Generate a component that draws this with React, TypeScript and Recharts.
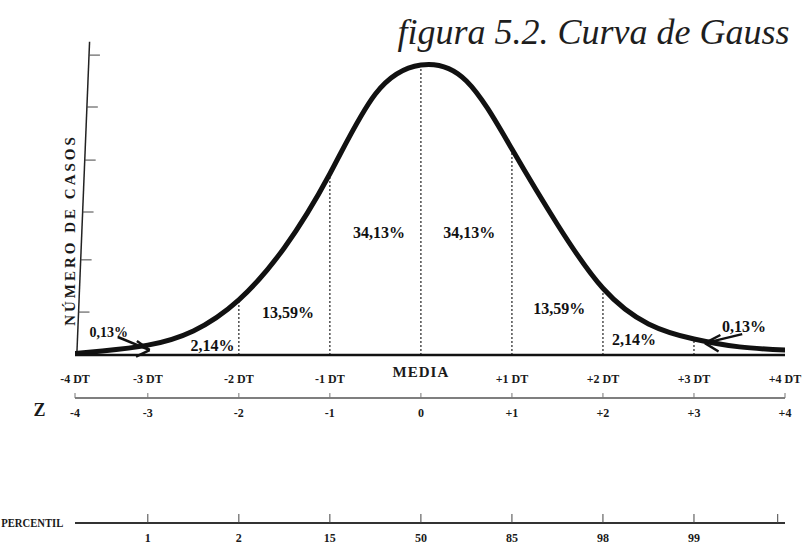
import React from "react";
import {
  ComposedChart,
  Line,
  XAxis,
  YAxis,
  ReferenceLine,
  ReferenceDot,
} from "recharts";

// curve (z in standard deviations, height relative to peak = 100)
const zValues = [-3.8, -3.5, -3, -2.5, -2, -1.5, -1, -0.5, 0, 0.5, 1, 1.5, 2, 2.5, 3, 3.5, 4];
const caseCounts = [0.5, 1.4, 3.4, 8.3, 19, 37, 62.5, 90, 100, 94.5, 71, 45, 23, 10.7, 5.5, 2.8, 1.7];

const dtTicks = [-3.8, -3, -2, -1, 0, 1, 2, 3, 4];
const dtLabels = ["-4 DT", "-3 DT", "-2 DT", "-1 DT", "MEDIA", "+1 DT", "+2 DT", "+3 DT", "+4 DT"];
const zTicks = [-3.8, -3, -2, -1, 0, 1, 2, 3, 4];
const zLabels = ["-4", "-3", "-2", "-1", "0", "+1", "+2", "+3", "+4"];
const pctTicks = [-3, -2, -1, 0, 1, 2, 3, 3.92];
const pctLabels = ["1", "2", "15", "50", "85", "98", "99", ""];
const cutoffs = [-2, -1, 0, 1, 2, 3];
const areaLabels = ["0,13%", "2,14%", "13,59%", "34,13%", "34,13%", "13,59%", "2,14%", "0,13%"];
const yTicks = [14.8, 32.8, 49.3, 67.2, 85.5, 103.4];

// layout of the annotations, in axis units
const areaLabelPos = [
  [-3.43, 7.6],
  [-2.29, 3.4],
  [-1.46, 14.8],
  [-0.46, 42.4],
  [0.53, 42.4],
  [1.52, 16.2],
  [2.34, 5.2],
  [3.55, 9.7],
];
const arrows = [
  // shaft, then the two head strokes, all ending at the tip
  { tip: [-2.98, 1.7], tail: [-3.33, 6.2], h1: [-3.12, 4.8], h2: [-3.13, -0.6] },
  { tip: [3.12, 4.1], tail: [3.53, 7.2], h1: [3.29, 6.9], h2: [3.27, 1.2] },
];

const data = zValues.map((z, i) => ({ z, cases: caseCounts[i] }));
const heightAt = (z: number) => caseCounts[zValues.indexOf(z)];

const SERIF = "'Liberation Serif', 'Times New Roman', serif";

const DtTick = (props: any) => {
  const { x, y, payload } = props;
  const label = dtLabels[dtTicks.indexOf(payload.value)] ?? "";
  const media = label === "MEDIA";
  return (
    <text
      x={x}
      y={y + (media ? 17 : 24)}
      textAnchor="middle"
      dominantBaseline="central"
      fontFamily={SERIF}
      fontWeight="bold"
      fontSize={media ? 15 : 12}
      letterSpacing={media ? 1 : 0}
      fill="#1a1a1a"
    >
      {label}
    </text>
  );
};

const ZTick = (props: any) => {
  const { x, y, payload } = props;
  const label = zLabels[zTicks.indexOf(payload.value)] ?? "";
  return (
    <text x={x} y={y + 20} textAnchor="middle" dominantBaseline="central"
      fontFamily={SERIF} fontWeight="bold" fontSize={12} fill="#1a1a1a">
      {label}
    </text>
  );
};

const PctTick = (props: any) => {
  const { x, y, payload } = props;
  const label = pctLabels[pctTicks.indexOf(payload.value)] ?? "";
  return (
    <text x={x} y={y + 24} textAnchor="middle" dominantBaseline="central"
      fontFamily={SERIF} fontWeight="bold" fontSize={12} fill="#1a1a1a">
      {label}
    </text>
  );
};

const App = () => {
  return (
    <div style={{ position: "absolute", left: 0, top: 0, background: "#fff" }}>
      <ComposedChart
        width={810}
        height={545}
        data={data}
        margin={{ top: 20, right: 25, left: 75, bottom: 0 }}
      >
        <XAxis
          type="number"
          dataKey="z"
          domain={[-3.8, 4]}
          allowDataOverflow
          ticks={dtTicks}
          interval={0}
          height={43}
          tickLine={false}
          tickSize={0}
          tickMargin={0}
          tick={<DtTick />}
          axisLine={{ stroke: "#111", strokeWidth: 2.5 }}
        />
        <XAxis
          xAxisId={1}
          type="number"
          dataKey="z"
          domain={[-3.8, 4]}
          allowDataOverflow
          ticks={zTicks}
          interval={0}
          height={125}
          tickSize={-5}
          tickMargin={0}
          tickLine={{ stroke: "#777" }}
          tick={<ZTick />}
          axisLine={{ stroke: "#555", strokeWidth: 1.5 }}
        />
        <XAxis
          xAxisId={2}
          type="number"
          dataKey="z"
          domain={[-3.8, 4]}
          allowDataOverflow
          ticks={pctTicks}
          interval={0}
          height={22}
          tickSize={-9}
          tickMargin={0}
          tickLine={{ stroke: "#444" }}
          tick={<PctTick />}
          axisLine={{ stroke: "#333", strokeWidth: 2 }}
        />
        <YAxis hide type="number" domain={[0, 115.5]} allowDataOverflow />

        {/* y axis drawn by hand: slightly slanted like the scan */}
        <ReferenceLine
          ifOverflow="visible"
          segment={[{ x: -3.78, y: 0 }, { x: -3.64, y: 108 }]}
          stroke="#222"
          strokeWidth={1.5}
        />
        {yTicks.map((v) => {
          const ax = -3.78 + (0.14 * v) / 108;
          return (
            <ReferenceLine
              key={"yt" + v}
              ifOverflow="visible"
              segment={[{ x: ax, y: v }, { x: ax + 0.12, y: v }]}
              stroke="#444"
              strokeWidth={1}
            />
          );
        })}

        {cutoffs.map((c) => (
          <ReferenceLine
            key={"cut" + c}
            ifOverflow="visible"
            segment={[{ x: c, y: 0 }, { x: c, y: heightAt(c) }]}
            stroke="#333"
            strokeWidth={1.3}
            strokeDasharray="2 2"
          />
        ))}

        <Line
          type="natural"
          dataKey="cases"
          stroke="#111"
          strokeWidth={5}
          strokeLinecap="round"
          dot={false}
          isAnimationActive={false}
        />

        {arrows.map((a, i) =>
          [a.tail, a.h1, a.h2].map((p, j) => (
            <ReferenceLine
              key={"ar" + i + j}
              ifOverflow="visible"
              segment={[{ x: p[0], y: p[1] }, { x: a.tip[0], y: a.tip[1] }]}
              stroke="#111"
              strokeWidth={2.5}
            />
          ))
        )}

        {areaLabels.map((t, i) => (
          <ReferenceDot
            key={"al" + i}
            x={areaLabelPos[i][0]}
            y={areaLabelPos[i][1]}
            r={0}
            ifOverflow="visible"
            shape={(p: any) => (
              <text x={p.cx} y={p.cy} textAnchor="middle" dominantBaseline="central"
                fontFamily={SERIF} fontWeight="bold" fontSize={i === 0 ? 14 : 16} fill="#111">
                {t}
              </text>
            )}
          />
        ))}

        <ReferenceDot
          x={-3.855}
          y={43.1}
          r={0}
          ifOverflow="visible"
          shape={(p: any) => (
            <text x={p.cx} y={p.cy} textAnchor="middle" dominantBaseline="central"
              transform={`rotate(-90 ${p.cx} ${p.cy})`}
              fontFamily={SERIF} fontWeight="bold" fontSize={15} letterSpacing={3} fill="#1a1a1a">
              NÚMERO DE CASOS
            </text>
          )}
        />
        <ReferenceDot
          x={-4.19}
          y={-19}
          r={0}
          ifOverflow="visible"
          shape={(p: any) => (
            <text x={p.cx} y={p.cy} textAnchor="middle" dominantBaseline="central"
              fontFamily={SERIF} fontWeight="bold" fontSize={18} fill="#1a1a1a">
              Z
            </text>
          )}
        />
        <ReferenceDot
          x={-4.61}
          y={-57.9}
          r={0}
          ifOverflow="visible"
          shape={(p: any) => (
            <text x={p.cx} y={p.cy} textAnchor="start" dominantBaseline="central"
              textLength={62} lengthAdjust="spacingAndGlyphs"
              fontFamily={SERIF} fontWeight="bold" fontSize={13} fill="#1a1a1a">
              PERCENTIL
            </text>
          )}
        />
        <ReferenceDot
          x={4.05}
          y={107.2}
          r={0}
          ifOverflow="visible"
          shape={(p: any) => (
            <text x={p.cx} y={p.cy} textAnchor="end"
              fontFamily={SERIF} fontStyle="italic" fontSize={36} fill="#1e1e1e">
              figura 5.2. Curva de Gauss
            </text>
          )}
        />
      </ComposedChart>
    </div>
  );
};

export default App;
